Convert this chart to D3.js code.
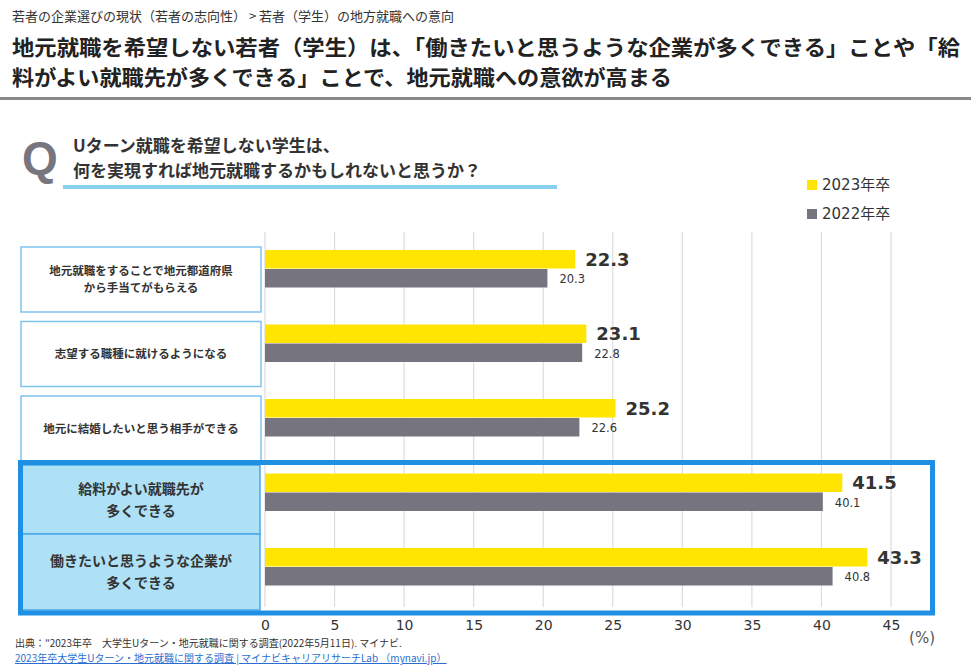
<!DOCTYPE html>
<html><head><meta charset="utf-8">
<script src="https://cdn.jsdelivr.net/npm/d3@7"></script>
<style>
body{margin:0;background:#fff;}
svg{display:block;font-family:"Noto Sans CJK JP","Noto Sans",sans-serif;}
</style></head>
<body>
<script>
const categories = [
  ["地元就職をすることで地元都道府県","から手当てがもらえる"],
  ["志望する職種に就けるようになる"],
  ["地元に結婚したいと思う相手ができる"],
  ["給料がよい就職先が","多くできる"],
  ["働きたいと思うような企業が","多くできる"]
];
const series = ["2023年卒","2022年卒"];
const values2023 = [22.3, 23.1, 25.2, 41.5, 43.3];
const values2022 = [20.3, 22.8, 22.6, 40.1, 40.8];
const ticks = [0,5,10,15,20,25,30,35,40,45];
const highlighted = [3,4];

const W=971,H=672;
const svg=d3.select("body").append("svg").attr("width",W).attr("height",H);
const colors={"2023年卒":"#ffe500","2022年卒":"#75747f"};

// header
svg.append("text").attr("x",12).attr("y",21).attr("font-size",13).attr("fill","#333")
  .text("若者の企業選びの現状（若者の志向性） >  若者（学生）の地方就職への意向");
const title=["地元就職を希望しない若者（学生）は、「働きたいと思うような企業が多くできる」ことや「給",
  "料がよい就職先が多くできる」ことで、地元就職への意欲が高まる"];
svg.append("text").attr("x",12).attr("y",55).attr("font-size",21).attr("font-weight","bold").attr("fill","#222")
  .attr("textLength",948).attr("lengthAdjust","spacingAndGlyphs").text(title[0]);
svg.append("text").attr("x",12).attr("y",85).attr("font-size",21).attr("font-weight","bold").attr("fill","#222")
  .attr("textLength",660).attr("lengthAdjust","spacingAndGlyphs").text(title[1]);
svg.append("rect").attr("x",0).attr("y",97).attr("width",W).attr("height",3).attr("fill","#8a8a8a");

// question
svg.append("text").attr("x",22).attr("y",174).attr("font-size",46).attr("font-weight","bold")
  .attr("fill","#77767f").attr("font-family","Arial, Liberation Sans, sans-serif").text("Q");
svg.append("text").attr("x",73).attr("y",152).attr("font-size",17).attr("font-weight","bold").attr("fill","#333")
  .text("Uターン就職を希望しない学生は、");
svg.append("text").attr("x",73).attr("y",177).attr("font-size",17).attr("font-weight","bold").attr("fill","#333")
  .text("何を実現すれば地元就職するかもしれないと思うか？");
svg.append("rect").attr("x",63).attr("y",185).attr("width",494).attr("height",4).attr("fill","#88d0f0");

// legend
series.forEach((s,i)=>{
  const g=svg.append("g").attr("transform",`translate(807,${180+i*29})`);
  g.append("rect").attr("width",10).attr("height",10).attr("fill",colors[s]);
  g.append("text").attr("x",15).attr("y",10).attr("font-size",15).attr("fill","#333")
    .attr("font-family","DejaVu Sans, Noto Sans CJK JP, sans-serif").text(s);
});

// scales
const x=d3.scaleLinear().domain([0,45]).range([265,891]);
const y=d3.scaleBand().domain(d3.range(categories.length)).range([243,615.5]).paddingInner(0);
const ys=d3.scaleBand().domain(series).range([7,45]);

// grid
svg.append("g").selectAll("line").data(ticks).join("line")
  .attr("x1",d=>x(d)).attr("x2",d=>x(d)).attr("y1",232).attr("y2",607)
  .attr("stroke","#dcdce0").attr("stroke-width",1.2);

// label boxes
categories.forEach((c,i)=>{
  const hl=highlighted.includes(i);
  let top,bot;
  if(!hl){top=y(i)+4;bot=y(i)+69;}
  else if(i===3){top=465;bot=534;}
  else{top=534;bot=610;}
  svg.append("rect").attr("x",hl?22:21).attr("y",top).attr("width",hl?238:240).attr("height",bot-top)
    .attr("fill",hl?"#aee0f6":"#fff").attr("stroke",hl?"#4aa8e8":"#7fc3ee").attr("stroke-width",1.5);
  const cy=(top+bot)/2;
  const fs=hl?14:11.5;
  const lh=hl?22:17;
  c.forEach((ln,j)=>{
    svg.append("text").attr("x",141).attr("y",cy+(j-(c.length-1)/2)*lh+fs*0.36)
      .attr("text-anchor","middle").attr("font-size",fs).attr("font-weight","bold").attr("fill","#333").text(ln);
  });
});

// bars
const rows=categories.map((c,i)=>({i,v:{"2023年卒":values2023[i],"2022年卒":values2022[i]}}));
const rg=svg.append("g").selectAll("g").data(rows).join("g").attr("transform",d=>`translate(0,${y(d.i)})`);
rg.selectAll("rect").data(d=>series.map(s=>({s,v:d.v[s]}))).join("rect")
  .attr("x",x(0)).attr("y",d=>ys(d.s)).attr("height",ys.bandwidth()-0.5)
  .attr("width",d=>x(d.v)-x(0)).attr("fill",d=>colors[d.s]);
rg.selectAll("text").data(d=>series.map(s=>({s,v:d.v[s]}))).join("text")
  .attr("x",d=>x(d.v)+(d.s==="2023年卒"?10:12))
  .attr("y",d=>ys(d.s)+ys.bandwidth()/2+(d.s==="2023年卒"?6:4.5))
  .attr("font-size",d=>d.s==="2023年卒"?18:11.5)
  .attr("font-weight",d=>d.s==="2023年卒"?"bold":"normal")
  .attr("fill","#333").attr("font-family","DejaVu Sans, sans-serif")
  .text(d=>d.v.toFixed(1));

// highlight border
svg.append("rect").attr("x",20.5).attr("y",462.5).attr("width",912).attr("height",150.5)
  .attr("fill","none").attr("stroke","#1e8fe3").attr("stroke-width",5);

// axis
const ax=svg.append("g").attr("transform","translate(0,612)")
  .call(d3.axisBottom(x).tickValues(ticks).tickSize(0).tickPadding(8));
ax.select(".domain").remove();
ax.selectAll("text").attr("font-size",14).attr("fill","#333").attr("font-family","DejaVu Sans, sans-serif");
svg.append("text").attr("x",935).attr("y",643).attr("text-anchor","end").attr("font-size",15).attr("fill","#555")
  .attr("font-family","DejaVu Sans, sans-serif").text("(%)");

// footer
svg.append("text").attr("x",15).attr("y",647).attr("font-size",10).attr("fill","#333")
  .text("出典：\"2023年卒　大学生Uターン・地元就職に関する調査(2022年5月11日). マイナビ.");
svg.append("text").attr("x",15).attr("y",662).attr("font-size",10).attr("fill","#2a6fd0")
  .attr("text-decoration","underline")
  .text("2023年卒大学生Uターン・地元就職に関する調査 | マイナビキャリアリサーチLab （mynavi.jp）");
</script>
</body></html>
